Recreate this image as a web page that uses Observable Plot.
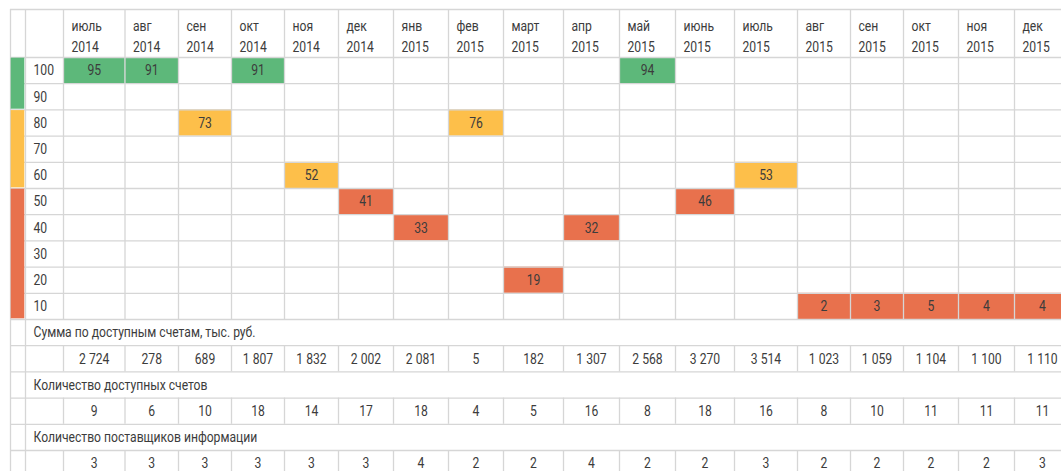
<!DOCTYPE html>
<html>
<head>
<meta charset="utf-8">
<script src="https://cdn.jsdelivr.net/npm/d3@7"></script>
<script src="https://cdn.jsdelivr.net/npm/@observablehq/plot@0.6"></script>
<style>
  html, body { margin: 0; padding: 0; background: #fff; overflow: hidden; }
</style>
</head>
<body>
<div id="chart"></div>
<script>
// ---- data ----
const monthNames = ["июль","авг","сен","окт","ноя","дек","янв","фев","март","апр","май","июнь","июль","авг","сен","окт","ноя","дек"];
const years = [2014,2014,2014,2014,2014,2014,2015,2015,2015,2015,2015,2015,2015,2015,2015,2015,2015,2015];
const scores = [95,91,73,91,52,41,33,76,19,32,94,46,53,2,3,5,4,4];
const rowLabels = [100,90,80,70,60,50,40,30,20,10];
const sumLabel = "Сумма по доступным счетам, тыс. руб.";
const sums = [2724,278,689,1807,1832,2002,2081,5,182,1307,2568,3270,3514,1023,1059,1104,1100,1110];
const accountsLabel = "Количество доступных счетов";
const accounts = [9,6,10,18,14,17,18,4,5,16,8,18,16,8,10,11,11,11];
const providersLabel = "Количество поставщиков информации";
const providers = [3,3,3,3,3,3,4,2,2,4,2,2,3,2,2,2,2,3];

// ---- layout / style ----
const palette = {green: "#5db87a", yellow: "#fdbf4a", red: "#e8714d"};
const bandOf = b => b >= 90 ? "green" : b >= 60 ? "yellow" : "red";
const colEdgesPx = [10,25,63,124.5,178,231,284,338,393,448,503,563,619,675,734,797,850,903,958,1014,1070];
const gridColor = "#d6d6d6";
const textColor = "#3c3c3c";
const fontSize = 15;
const condense = 0.81; // narrow type, as in the original
const fmt = d3.formatLocale({decimal: ",", thousands: "\u00a0", grouping: [3]}).format(",d");

const nM = monthNames.length;
const nScoreRows = rowLabels.length;
const sections = [
  {label: sumLabel, values: sums.map(fmt)},
  {label: accountsLabel, values: accounts.map(String)},
  {label: providersLabel, values: providers.map(String)}
];
const nRows = nScoreRows + sections.length * 2;

const scoreCells = scores.map((v, i) => {
  const bucket = Math.ceil(v / 10) * 10;
  return {col: i, row: rowLabels.indexOf(bucket), v, fill: palette[bandOf(bucket)]};
});

// stripe segments (merged cells of same band)
const stripe = [];
rowLabels.forEach((b, i) => {
  const band = bandOf(b);
  const last = stripe[stripe.length - 1];
  if (last && last.band === band) last.to = i + 1;
  else stripe.push({band, from: i, to: i + 1, fill: palette[band]});
});

// grid lines
const hLines = d3.range(-1, nRows + 1);
const vSegs = [];
for (const x of [-2, -1]) vSegs.push({x, y1: -1, y2: nRows});
for (let x = 0; x <= nM; x++) {
  vSegs.push({x, y1: -1, y2: nScoreRows});
  sections.forEach((s, k) => vSegs.push({x, y1: nScoreRows + 2 * k + 1, y2: nScoreRows + 2 * k + 2}));
}

const sectionValueCells = sections.flatMap((s, k) =>
  s.values.map((t, i) => ({col: i, row: nScoreRows + 2 * k + 1, t})));

const xDomain = d3.range(-2, nM + 1);
const yDomain = [-1, 0, nRows];

const plot = Plot.plot({
  width: 1070,
  height: 476,
  margin: 0,
  style: {fontFamily: "Roboto, 'Noto Sans', sans-serif", fontSize: fontSize + "px", color: textColor, background: "#fff"},
  x: {type: "linear", domain: xDomain, range: colEdgesPx, axis: null},
  y: {type: "linear", domain: yDomain, range: [9, 57, 57 + 26.2 * nRows], axis: null},
  color: {type: "identity"},
  marks: [
    Plot.rect(scoreCells, {x1: d => d.col, x2: d => d.col + 1, y1: d => d.row, y2: d => d.row + 1, fill: "fill"}),
    Plot.ruleY(hLines, {y: d => d, x1: -2, x2: nM, stroke: gridColor, strokeWidth: 1.3}),
    Plot.ruleX(vSegs, {x: "x", y1: "y1", y2: "y2", stroke: gridColor, strokeWidth: 1.3}),
    Plot.rect(stripe, {x1: -2, x2: -1, y1: "from", y2: "to", fill: "fill", inset: 0.7}),
    Plot.text(monthNames, {x: (d, i) => i, y: -0.5, text: (d, i) => `${d}\n${years[i]}`, textAnchor: "start", dx: 8, dy: 1, lineHeight: 1.4, fontSize}),
    Plot.text(rowLabels, {x: -1, y: (d, i) => i + 0.5, text: d => String(d), textAnchor: "start", dx: 8, fontSize}),
    Plot.text(scoreCells, {x: d => d.col + 0.5, y: d => d.row + 0.5, text: d => String(d.v), fontSize}),
    Plot.text(sections, {x: -1, y: (d, k) => nScoreRows + 2 * k + 0.5, text: "label", textAnchor: "start", dx: 8, fontSize}),
    Plot.text(sectionValueCells, {x: d => d.col + 0.5, y: d => d.row + 0.5, text: "t", fontSize})
  ]
});
// horizontally condense every label around its own anchor point
plot.querySelectorAll("text").forEach(t => {
  const tr = t.getAttribute("transform");
  if (tr) {
    t.setAttribute("transform", `${tr} scale(${condense},1)`);
  } else {
    const x = +(t.getAttribute("x") || 0);
    t.setAttribute("transform", `translate(${x},0) scale(${condense},1) translate(${-x},0)`);
  }
});
plot.style.maxWidth = "none";
plot.style.display = "block";
document.getElementById("chart").appendChild(plot);
</script>
</body>
</html>
